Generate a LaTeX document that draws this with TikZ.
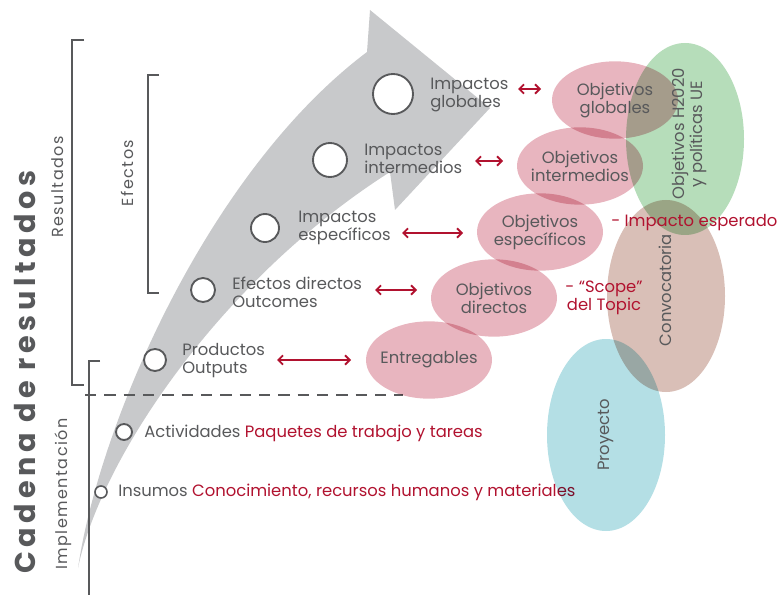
\documentclass[tikz,border=0pt]{standalone}
\usepackage{fontspec}
\setmainfont{Poppins}
\usetikzlibrary{arrows.meta,positioning,shapes.geometric}
\definecolor{chaingrey}{HTML}{58595B}
\definecolor{chainred}{HTML}{B1122F}
\definecolor{arrowgrey}{HTML}{C8C9CB}
\definecolor{objpink}{HTML}{E8B5BF}
\definecolor{policygreen}{HTML}{B6DDBA}
\definecolor{callbrown}{HTML}{D9BFB7}
\definecolor{projectblue}{HTML}{B4DFE5}
\newcommand{\chainfont}{\fontsize{12.3}{13.5}\selectfont}
\tikzset{
  stage/.style={circle,draw=chaingrey,fill=white,line width=1.4pt,inner sep=0pt},
  steptext/.style={anchor=west,align=left,inner sep=0pt,text=chaingrey,font=\chainfont},
  objtext/.style={align=center,inner sep=0pt,text=chaingrey,font=\chainfont},
  notetext/.style={align=center,inner sep=0pt,text=chainred,font=\chainfont},
  sidetext/.style={rotate=90,inner sep=0pt,text=chaingrey,font=\fontsize{12}{13.5}\selectfont\addfontfeatures{LetterSpace=9}},
  objective/.style={ellipse,fill=objpink,minimum width=94.5pt,minimum height=58pt,inner sep=0pt},
  bigblob/.style={ellipse,rotate=90,minimum width=144pt,minimum height=88.5pt,inner sep=0pt},
  bracket/.style={draw=chaingrey,line width=1.4pt},
  link/.style={{Straight Barb[length=3.5pt,width=7pt]}-{Straight Barb[length=3.5pt,width=7pt]},line width=1.4pt,chainred}
}
\begin{document}
\begin{tikzpicture}[x=0.75pt,y=-0.75pt]
  \useasboundingbox (0,0) rectangle (778,595);
  % big curved arrow
  \fill[arrowgrey] (78,568) .. controls (100,420) and (210,170) .. (367,52) -- (370,10) -- (490,108)
    -- (395,210) -- (390,172) .. controls (220,280) and (100,460) .. (78,568) -- cycle;

  % brackets
  \draw[bracket] (84,40) -- (72,40) -- (72,385) -- (84,385);
  \draw[bracket] (159,75) -- (148,75) -- (148,293) -- (159,293);
  \draw[bracket] (100,361) -- (89,361) -- (89,595);
  \draw[chaingrey,line width=1.4pt,dash pattern=on 8.5pt off 6pt] (85,395) -- (403,395);

  \node[sidetext] (resultados) at (58,187) {Resultados};
  \node[sidetext] (efectos) at (127,173) {Efectos};
  \node[sidetext] (implem) at (63,494) {Implementación};
  \node[rotate=90,inner sep=0pt,text=chaingrey,font=\fontsize{21.5}{24}\selectfont\bfseries\addfontfeatures{LetterSpace=16}] (cadena) at (25,372) {Cadena de resultados};

  % stages of the chain
  \node[stage,minimum size=30pt] (cGlob) at (393,94) {};
  \node[stage,minimum size=25.5pt] (cInter) at (330,160) {};
  \node[stage,minimum size=21pt] (cEsp) at (265,228) {};
  \node[stage,minimum size=18pt] (cDir) at (203,290) {};
  \node[stage,minimum size=16.5pt] (cProd) at (155,360) {};
  \node[stage,minimum size=12pt] (cAct) at (124,432) {};
  \node[stage,minimum size=9pt,line width=1.2pt] (cIns) at (101,492) {};

  \node[steptext] (tGlob) at (430,95) {Impactos\\globales};
  \node[steptext] (tInter) at (364,159) {Impactos\\intermedios};
  \node[steptext] (tEsp) at (298,228) {Impactos\\específicos};
  \node[steptext] (tDir) at (232,292) {Efectos directos\\Outcomes};
  \node[steptext] (tProd) at (182,361) {Productos\\Outputs};
  \node[steptext] (tAct) at (144,433) {Actividades \textcolor{chainred}{Paquetes de trabajo y tareas}};
  \node[steptext] (tIns) at (118,492) {Insumos \textcolor{chainred}{Conocimiento, recursos humanos y materiales}};

  % objectives and frames
  \begin{scope}[blend mode=multiply]
    \node[objective] (eGlob) at (615,100) {};
    \node[objective] (eInter) at (580,166) {};
    \node[objective] (eEsp) at (540,232) {};
    \node[objective] (eDir) at (494,298) {};
    \node[objective] (eEnt) at (429,360) {};
    \node[bigblob,fill=policygreen] (eH2020) at (685,139) {};
    \node[bigblob,fill=callbrown] (eCall) at (666,296) {};
    \node[bigblob,fill=projectblue] (eProj) at (606,435) {};
  \end{scope}

  \node[objtext] at (eGlob) {Objetivos\\globales};
  \node[objtext] at (eInter) {Objetivos\\intermedios};
  \node[objtext] at (eEsp) {Objetivos\\específicos};
  \node[objtext] at (eDir) {Objetivos\\directos};
  \node[objtext] at (eEnt) {Entregables};
  \node[objtext,rotate=90] at (689,134) {Objetivos H2020\\y políticas UE};
  \node[objtext,rotate=90] at (665,290) {Convocatoria};
  \node[objtext,rotate=90] at (eProj) {Proyecto};

  \node[notetext,anchor=west] (nImpacto) at (611,223) {- Impacto esperado};
  \node[notetext] (nScope) at (604,298) {- “Scope”\\del Topic};

  % correspondences
  \coordinate (gA) at (518,89);  \coordinate (gB) at (541,89);
  \coordinate (iA) at (475,161); \coordinate (iB) at (503,161);
  \coordinate (sA) at (402,233); \coordinate (sB) at (463,233);
  \coordinate (dA) at (375,290); \coordinate (dB) at (417,290);
  \coordinate (pA) at (277,360); \coordinate (pB) at (351,360);
  \draw[link] (gA) -- (gB);
  \draw[link] (iA) -- (iB);
  \draw[link] (sA) -- (sB);
  \draw[link] (dA) -- (dB);
  \draw[link] (pA) -- (pB);
\end{tikzpicture}
\end{document}
